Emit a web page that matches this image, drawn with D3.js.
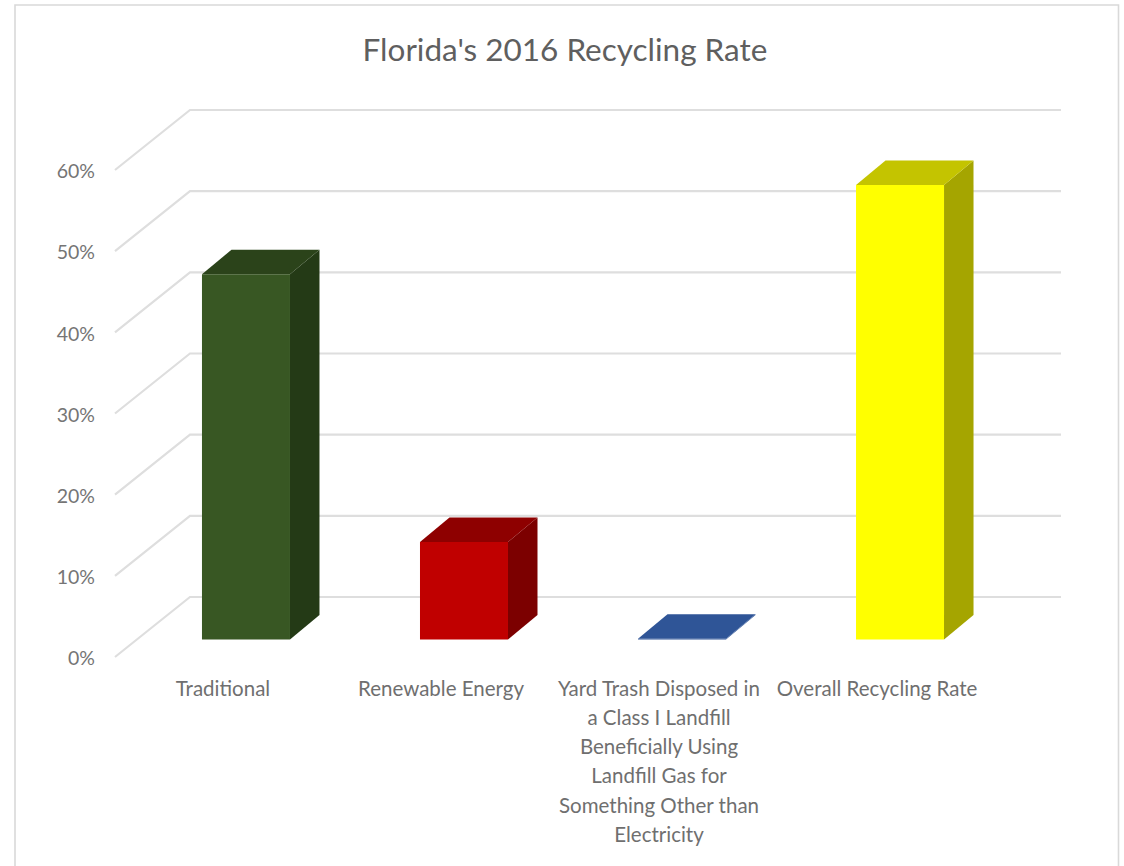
<!DOCTYPE html>
<html><head><meta charset="utf-8">
<script src="https://cdn.jsdelivr.net/npm/d3@7"></script>
<style>html,body{margin:0;padding:0;background:#fff}svg{display:block}text{font-family:Lato,"Open Sans",sans-serif}</style>
</head><body><svg id="c" width="1124" height="866"></svg>
<script>
const titleText = "Florida's 2016 Recycling Rate";
const categories = ["Traditional","Renewable Energy","Yard Trash Disposed in a Class I Landfill Beneficially Using Landfill Gas for Something Other than Electricity","Overall Recycling Rate"];
const labelLines = [["Traditional"],["Renewable Energy"],["Yard Trash Disposed in","a Class I Landfill","Beneficially Using","Landfill Gas for","Something Other than","Electricity"],["Overall Recycling Rate"]];
const values = [0.45,0.12,0.001,0.56];
const tickValues = [0,0.1,0.2,0.3,0.4,0.5,0.6];
const faceFront = ["#385723","#c00000","#2f5597","#ffff00"];
const faceTop = ["#2b431a","#8e0000","#2f5597","#c4c400"];
const faceSide = ["#243a16","#7c0000","#2f5597","#a5a500"];

const svg = d3.select("#c");
const W=1124,H=866;
svg.append("path").attr("d",`M15,${H}V5H1118.5V${H}`).attr("fill","none").attr("stroke","#d9d9d9").attr("stroke-width",1.6);
svg.append("text").attr("x",565).attr("y",61).attr("text-anchor","middle").attr("font-size",31.5).attr("fill","#5f5f5f").text(titleText);

const yBack = d3.scaleLinear().domain([0,0.6]).range([597,110]);
const wallDx = 75, wallDy = 60;
const xFront = d3.scaleBand().domain(categories).range([137,1009]).paddingInner(0.5963).paddingOuter(0.298);
const gridRight = 1061;

// gridlines
const grid = svg.append("g").attr("fill","none").attr("stroke","#dedede").attr("stroke-width",2.2);
grid.selectAll("path").data(tickValues).join("path")
  .attr("d",d=>{const y=yBack(d);return `M${190-wallDx},${y+wallDy}L190,${y}H${gridRight}`;});

// y axis labels
const yAxisG = svg.append("g").attr("transform",`translate(${190-wallDx-20},1.5)`)
  .call(d3.axisLeft(d3.scaleLinear().domain([0,0.6]).range([597+wallDy,110+wallDy])).tickValues(tickValues).tickFormat(d3.format(".0%")).tickSize(0).tickPadding(0));
yAxisG.select(".domain").remove();
yAxisG.selectAll("text").attr("font-size",19.5).attr("fill","#757575").style("font-family","Lato,'Open Sans',sans-serif");

// bars
const floorY = 639.5, depthX = 29.5, depthY = 24.5;
const h = v => yBack(0)-yBack(v);
const bars = svg.append("g").selectAll("g").data(categories).join("g");
bars.each(function(c,i){
  const g=d3.select(this), x0=xFront(c), x1=x0+xFront.bandwidth(), top=floorY-h(values[i]);
  const poly=(pts,f)=>g.append("polygon").attr("points",pts.map(p=>p.join(",")).join(" ")).attr("fill",f);
  poly([[x1,floorY],[x1+depthX,floorY-depthY],[x1+depthX,top-depthY],[x1,top]],faceSide[i]);
  poly([[x0,top],[x0+depthX,top-depthY],[x1+depthX,top-depthY],[x1,top]],faceTop[i]);
  poly([[x0,top],[x1,top],[x1,floorY],[x0,floorY]],faceFront[i]);
});

// category labels
const lab = svg.append("g").attr("font-size",20.5).attr("fill","#6f6f6f").attr("text-anchor","middle");
categories.forEach((c,i)=>{
  const cx = xFront(c)+xFront.bandwidth()/2-23;
  labelLines[i].forEach((t,j)=>lab.append("text").attr("x",cx).attr("y",695.5+j*29.3).text(t));
});
</script></body></html>
